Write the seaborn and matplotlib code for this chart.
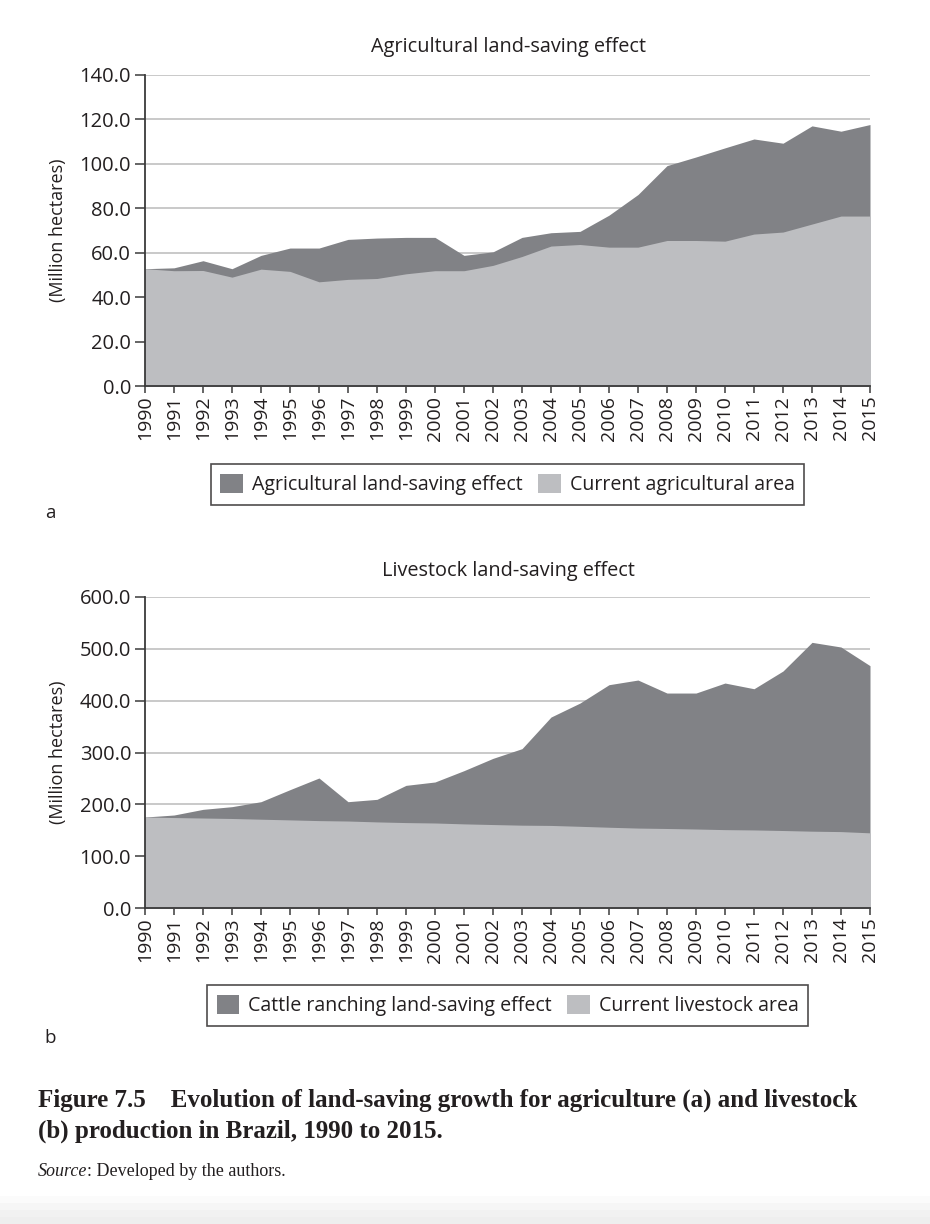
import matplotlib
matplotlib.use("Agg")
import matplotlib.pyplot as plt
from matplotlib.patches import Patch, Rectangle
import seaborn as sns
import pandas as pd

years = list(range(1990, 2016))

# panel a: agricultural area (million hectares)
agri_current = [52.8, 51.9, 52.0, 49.0, 52.6, 51.6, 46.9, 48.0, 48.4, 50.5,
                51.9, 51.9, 54.3, 58.3, 63.0, 63.7, 62.5, 62.5, 65.5, 65.5,
                65.2, 68.4, 69.3, 72.9, 76.5, 76.5]
agri_total = [52.8, 53.2, 56.4, 52.8, 58.8, 62.1, 62.1, 66.0, 66.6, 66.9,
              66.9, 58.8, 60.4, 66.9, 69.0, 69.6, 76.9, 86.2, 99.2, 103.1,
              107.2, 111.2, 109.3, 117.1, 114.7, 117.7]

# panel b: livestock area (million hectares)
live_current = [175.5, 174.5, 173.6, 172.7, 171.3, 170.0, 168.6, 167.8, 166.1, 164.8,
                164.0, 162.3, 161.0, 159.8, 159.3, 157.6, 155.8, 154.2, 153.4, 152.4,
                151.2, 150.6, 149.5, 148.2, 147.4, 145.0]
live_total = [175.5, 179.4, 190.3, 195.5, 205.1, 228.3, 250.8, 205.1, 209.6, 236.6,
              243.1, 265.0, 288.7, 307.4, 368.4, 395.4, 430.8, 439.8, 414.7, 414.7,
              434.0, 423.0, 457.2, 512.5, 503.5, 467.5]

agri_labels = ["Agricultural land-saving effect", "Current agricultural area"]
live_labels = ["Cattle ranching land-saving effect", "Current livestock area"]
titles = ["Agricultural land-saving effect", "Livestock land-saving effect"]

DARK = "#818286"
LIGHT = "#bdbec1"
TEXT = "#231f20"

sns.set_theme(style="white")
plt.rcParams["font.family"] = ["Open Sans", "DejaVu Sans"]

W, H = 930, 1224
fig = plt.figure(figsize=(W / 100, H / 100), dpi=100)


def fx(px):
    return px / W


def fy(py):
    return 1 - py / H


def draw_panel(top_px, bottom_px, current, total, ymax, ystep, labels, title,
               legend_y, letter, letter_y, title_y):
    ax = fig.add_axes([fx(145), fy(bottom_px), fx(870) - fx(145),
                       fy(top_px) - fy(bottom_px)])
    df = pd.DataFrame({"year": years, "current": current, "total": total})
    ax.fill_between(df["year"], 0, df["total"], color=DARK, lw=0, zorder=2)
    ax.fill_between(df["year"], 0, df["current"], color=LIGHT, lw=0, zorder=3)
    ax.set_xlim(1990, 2015)
    ax.set_ylim(0, ymax)
    ax.set_yticks(range(0, ymax + 1, ystep))
    ax.set_yticklabels([f"{v:.1f}" for v in range(0, ymax + 1, ystep)])
    ax.set_xticks(years)
    ax.set_xticklabels([str(y) for y in years], rotation=90)
    ax.yaxis.grid(True, color="#c9c9c9", lw=1.4, zorder=1)
    ax.xaxis.grid(False)
    ax.set_axisbelow(True)
    sns.despine(ax=ax, top=True, right=True)
    for s in ("left", "bottom"):
        ax.spines[s].set_color("#3a3a3a")
        ax.spines[s].set_linewidth(1.3)
        ax.spines[s].set_zorder(5)
    ax.tick_params(axis="y", which="major", direction="out", length=7, width=1.1,
                   color="#3a3a3a", labelsize=14.5, labelcolor=TEXT, pad=3, left=True)
    ax.tick_params(axis="x", which="major", direction="out", length=5, width=1.1,
                   color="#3a3a3a", labelsize=14, labelcolor=TEXT, pad=2, bottom=True)
    ax.set_ylabel("(Million hectares)", fontsize=13, color=TEXT)
    ax.yaxis.set_label_coords(-0.108, 0.5)
    fig.text(fx(508), fy(title_y), title, ha="center", va="center",
             fontsize=14.3, color=TEXT)
    handles = [Patch(facecolor=DARK, edgecolor="none"),
               Patch(facecolor=LIGHT, edgecolor="none")]
    leg = fig.legend(handles, labels, loc="center", ncol=2,
                     bbox_to_anchor=(fx(507.5), fy(legend_y)),
                     frameon=True, fancybox=False, fontsize=14.1,
                     handlelength=1.15, handleheight=1.15, handletextpad=0.45,
                     columnspacing=0.8, borderpad=0.5, borderaxespad=0,
                     labelcolor=TEXT)
    leg.get_frame().set_edgecolor("#231f20")
    leg.get_frame().set_linewidth(1.2)
    fig.text(fx(50), fy(letter_y), letter, ha="center", va="center",
             fontsize=13.5, color=TEXT)
    return ax


draw_panel(75, 386, agri_current, agri_total, 140, 20, agri_labels, titles[0],
           484.5, "a", 513, 47)
draw_panel(597, 908, live_current, live_total, 600, 100, live_labels, titles[1],
           1005.5, "b", 1038, 571)

# running header, cut off at the top of the page
fig.text(fx(38), 1.004, "156     AGRICULTURAL EXPANSION AND LOW-CARBON EMISSIONS",
         ha="left", va="center", fontsize=11, color=TEXT)

serif = ["Liberation Serif", "DejaVu Serif"]
fig.text(fx(38), fy(1100), "Figure 7.5    Evolution of land-saving growth for agriculture (a) and livestock",
         ha="left", va="center", fontsize=18, fontweight="bold", family=serif, color=TEXT)
fig.text(fx(38), fy(1131), "(b) production in Brazil, 1990 to 2015.",
         ha="left", va="center", fontsize=18, fontweight="bold", family=serif, color=TEXT)

src = fig.text(fx(38), fy(1172), "Source", ha="left", va="center", fontsize=13,
               style="italic", family=serif, color=TEXT)
fig.canvas.draw()
src_end = src.get_window_extent().x1 / W
fig.text(src_end, fy(1172), ": Developed by the authors.", ha="left", va="center",
         fontsize=13, family=serif, color=TEXT)

# page edge shading at the bottom
for i, c in enumerate(["#fbfbfb", "#f6f6f6", "#f1f1f1", "#eeeeee"]):
    fig.patches.append(Rectangle((0, 0), 1, fy(1196 + i * 7), transform=fig.transFigure,
                                 facecolor=c, edgecolor="none", zorder=-1))

fig.savefig("out.png", dpi=100)
